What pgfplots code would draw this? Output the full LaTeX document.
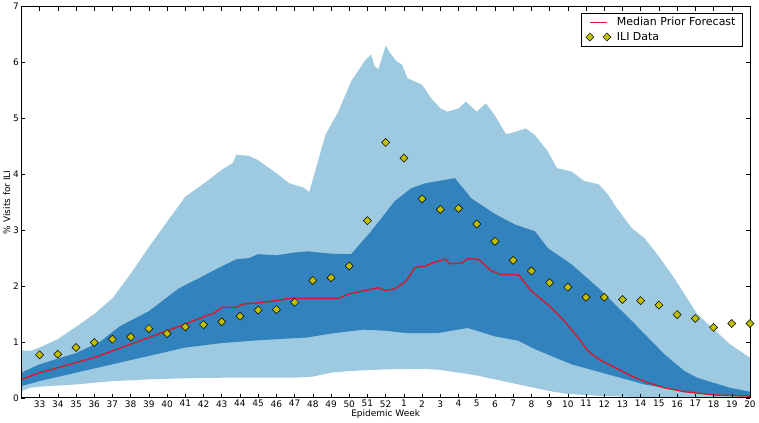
\documentclass[border=0pt]{standalone}
\usepackage{pgfplots}
\pgfplotsset{compat=1.18}
\usepackage{fontspec}
\setmainfont{DejaVu Sans}
\definecolor{lightband}{RGB}{158,202,225}
\definecolor{darkband}{RGB}{49,130,189}
\definecolor{medred}{RGB}{210,28,45}
\definecolor{iliyellow}{RGB}{191,191,0}
\pgfplotsset{twomarks/.style={legend image code/.code={\draw[##1] plot[only marks] coordinates {(0cm,0cm) (0.6cm,0cm)};}},
  thickline/.style={legend image code/.code={\draw[##1, line width=1.6pt] (0cm,0cm) -- (0.6cm,0cm);}}}
\begin{document}
\begin{tikzpicture}
\begin{axis}[
  scale only axis,
  width=730pt, height=392pt,
  xmin=0, xmax=40, ymin=0, ymax=7,
  xtick={1,...,40},
  xticklabels={33,34,35,36,37,38,39,40,41,42,43,44,45,46,47,48,49,50,51,52,1,2,3,4,5,6,7,8,9,10,11,12,13,14,15,16,17,18,19,20},
  ytick={0,1,2,3,4,5,6,7},
  tick align=inside,
  major tick length=4pt,
  tick style={black, line width=0.5pt},
  axis line style={black, line width=0.8pt},
  ticklabel style={font=\fontsize{9}{10}\selectfont},
  label style={font=\fontsize{9}{10}\selectfont},
  /pgf/number format/assume math mode=true,
  xlabel={Epidemic Week},
  ylabel={\% Visits for ILI},
  xlabel style={yshift=4pt},
  ylabel style={yshift=-4pt},
  yticklabel style={xshift=1pt},
  xticklabel style={yshift=1pt},
  axis on top,
  legend style={at={(rel axis cs:0.99,0.983)}, anchor=north east, draw=black, font=\fontsize{11}{12}\selectfont, inner xsep=5pt, inner ysep=2pt, row sep=1pt, column sep=4pt, cells={anchor=west}},
  legend cell align=left,
]
% outer band (upper then lower reversed)
\addplot[fill=lightband, draw=none, forget plot] coordinates {
(0,0.85) (0.5,0.84) (1,0.9) (2,1.05) (3,1.27) (4,1.5) (5,1.78) (5.5,2.0) (6,2.22) (7,2.7) (8,3.15) (9,3.6) (10,3.83) (11,4.08) (11.6,4.2) (11.8,4.35) (12.5,4.33) (13,4.25) (14,4.02) (14.7,3.84) (15.5,3.76) (15.8,3.68) (16.7,4.71) (17.4,5.12) (18.1,5.66) (18.9,6.05) (19.2,6.14) (19.4,5.93) (19.6,5.88) (20.0,6.3) (20.3,6.14) (20.6,6.02) (20.9,5.96) (21.2,5.72) (22,5.6) (22.5,5.36) (23,5.18) (23.4,5.12) (24,5.18) (24.4,5.3) (25,5.12) (25.5,5.27) (26,5.05) (26.6,4.72) (26.9,4.74) (27.7,4.82) (28.2,4.7) (28.9,4.41) (29.4,4.11) (30.2,4.05) (30.9,3.88) (31.7,3.82) (32.2,3.64) (32.7,3.39) (33.5,3.04) (34.2,2.86) (34.9,2.57) (35.7,2.21) (36.4,1.86) (37.1,1.5) (38.1,1.2) (38.9,0.96) (40,0.72)
(40,0.005) (34,0.015) (32,0.03) (30,0.07) (29,0.12) (28,0.19) (27,0.26) (26,0.33) (25,0.4) (24,0.45) (23,0.5) (22,0.52) (20,0.51) (18,0.48) (17,0.45) (16,0.38) (15,0.36) (11,0.36) (9,0.35) (7,0.33) (5,0.3) (3,0.24) (1,0.2) (0.5,0.18) (0,0.12)
} -- cycle;
% inner band
\addplot[fill=darkband, draw=none, forget plot] coordinates {
(0,0.45) (1,0.6) (2,0.7) (3,0.8) (4.3,1.0) (5.4,1.28) (7,1.55) (8.65,1.96) (9.75,2.14) (10.8,2.32) (11.8,2.48) (12.5,2.5) (13,2.57) (14,2.55) (15,2.6) (15.7,2.62) (17,2.58) (18.1,2.57) (19.2,2.98) (20.5,3.52) (21.4,3.75) (22.2,3.84) (23.8,3.93) (24.7,3.57) (26,3.29) (27.1,3.1) (28.2,2.98) (28.9,2.68) (30.2,2.39) (31.7,1.96) (33.5,1.38) (35.3,0.78) (36.4,0.48) (37.1,0.36) (38.9,0.18) (40,0.11)
(40,0.03) (38.1,0.06) (36.3,0.12) (34.2,0.24) (32.2,0.42) (30.2,0.6) (28.2,0.87) (27.3,1.02) (26,1.1) (24.5,1.25) (22.9,1.16) (21.1,1.16) (20,1.2) (18.8,1.22) (17,1.15) (15.7,1.08) (13,1.03) (11,0.98) (9,0.9) (7,0.75) (5,0.6) (3,0.45) (1,0.3) (0,0.21)
} -- cycle;
% median
\addplot[medred, line width=1.4pt, thickline] coordinates {
(0,0.33) (1,0.45) (2,0.54) (3,0.63) (4,0.72) (5,0.84) (6,0.96) (7,1.08) (8,1.2) (9,1.32) (10,1.45) (10.6,1.52) (11,1.62) (11.8,1.62) (12.2,1.68) (13,1.7) (14,1.74) (14.7,1.78) (17.4,1.78) (18,1.86) (19.6,1.97) (20,1.92) (20.5,1.95) (21.1,2.08) (21.6,2.33) (22.2,2.36) (22.7,2.43) (23.3,2.48) (23.5,2.4) (24.2,2.41) (24.5,2.49) (25.1,2.48) (25.8,2.27) (26.3,2.21) (27.3,2.2) (28,1.91) (28.9,1.67) (29.8,1.38) (30.7,1.02) (31.1,0.84) (31.7,0.69) (32.6,0.54) (33.5,0.39) (34.4,0.27) (35.3,0.18) (36.4,0.11) (38.1,0.05) (40,0.03)
};
\addlegendentry{Median Prior Forecast}
% ILI data
\addplot[only marks, mark=square*, mark size=2.85pt, mark options={rotate=45, fill=iliyellow, draw=black, line width=0.5pt}, twomarks] coordinates {
(1,0.77) (2,0.78) (3,0.9) (4,0.99) (5,1.05) (6,1.09) (7,1.24) (8,1.15) (9,1.27) (10,1.31) (11,1.36) (12,1.46) (13,1.57) (14,1.58) (15,1.71) (16,2.1) (17,2.15) (18,2.36) (19,3.17) (20,4.57)
(21,4.29) (22,3.56) (23,3.37) (24,3.39) (25,3.11) (26,2.80) (27,2.46) (28,2.27) (29,2.06) (30,1.98) (31,1.80) (32,1.80) (33,1.76) (34,1.74) (35,1.66) (36,1.49) (37,1.42) (38,1.26) (39,1.33) (40,1.33)
};
\addlegendentry{ILI Data}
\end{axis}
\end{tikzpicture}
\end{document}
